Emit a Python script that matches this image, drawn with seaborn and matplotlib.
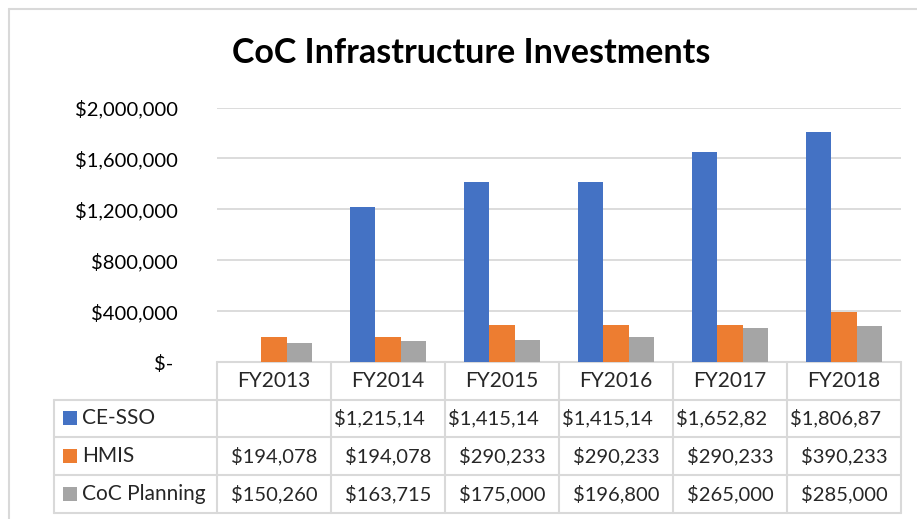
import matplotlib.pyplot as plt
import seaborn as sns
import pandas as pd
import numpy as np

years = ["FY2013", "FY2014", "FY2015", "FY2016", "FY2017", "FY2018"]
series = ["CE-SSO", "HMIS", "CoC Planning"]
ce_sso = [np.nan, 1215140, 1415140, 1415140, 1652820, 1806870]
hmis = [194078, 194078, 290233, 290233, 290233, 390233]
coc_planning = [150260, 163715, 175000, 196800, 265000, 285000]
colors = ["#4472C4", "#ED7D31", "#A5A5A5"]

sns.set_style("white")
plt.rcParams["font.family"] = ["Lato", "DejaVu Sans"]

rows = []
for name, vals in zip(series, [ce_sso, hmis, coc_planning]):
    for y, v in zip(years, vals):
        rows.append({"year": y, "series": name, "amount": v})
df = pd.DataFrame(rows)

W, H = 917, 519
fig = plt.figure(figsize=(W / 100, H / 100), dpi=100)

# figure frame (only top and left edges are inside the crop)
bg = fig.add_axes([0, 0, 1, 1])
bg.set_xlim(0, W)
bg.set_ylim(H, 0)
bg.axis("off")
bg.plot([9, 9], [9, H], color="#D9D9D9", lw=1.5)
bg.plot([9, W], [9, 9], color="#D9D9D9", lw=1.5)

# plot area
x0, x1 = 217, 901
y_top, y_zero = 107.5, 362
ax = fig.add_axes([x0 / W, 1 - y_zero / H, (x1 - x0) / W, (y_zero - y_top) / H])
sns.barplot(data=df, x="year", y="amount", hue="series", hue_order=series,
            order=years, palette=colors, saturation=1, width=0.67, errorbar=None,
            linewidth=0, legend=False, ax=ax)
ax.set_ylim(0, 2000000)
ax.set_xlim(-0.5, len(years) - 0.5)
ax.set_yticks(range(0, 2000001, 400000))
ax.yaxis.set_major_formatter(lambda v, p: "$- " if v == 0 else f"${v:,.0f}")
ax.tick_params(axis="y", labelsize=14.5, colors="#000000", length=0, pad=28)
ax.set_xticks([])
ax.set_xlabel("")
ax.set_ylabel("")
ax.grid(axis="y", color="#D9D9D9", lw=1.3)
ax.set_axisbelow(True)
for s in ax.spines.values():
    s.set_visible(False)
ax.patch.set_alpha(0)

fig.text(471 / W, 1 - 53 / H, "CoC Infrastructure Investments", ha="center",
         va="center", fontsize=24.5, fontweight="bold", color="#000000")

# data table
tl = "#D9D9D9"
col_w = (x1 - x0) / len(years)
row_y = [362, 399.5, 437, 475, 513]
lab_x = 54
bg.plot([x0, x1], [row_y[0], row_y[0]], color=tl, lw=1.5)
for y in row_y[1:]:
    bg.plot([lab_x, x1], [y, y], color=tl, lw=1.5)
bg.plot([lab_x, lab_x], [row_y[1], row_y[-1]], color=tl, lw=1.5)
for i in range(len(years) + 1):
    xx = x0 + i * col_w
    bg.plot([xx, xx], [row_y[0], row_y[-1]], color=tl, lw=1.5)

fs = 15
fn = 14.5
for i, y in enumerate(years):
    bg.text(x0 + (i + 0.5) * col_w, (row_y[0] + row_y[1]) / 2, y,
            ha="center", va="center", fontsize=fs)
for r, (name, vals, c) in enumerate(zip(series, [ce_sso, hmis, coc_planning], colors)):
    yc = (row_y[r + 1] + row_y[r + 2]) / 2
    bg.add_patch(plt.Rectangle((63, yc - 7), 14, 14, color=c, lw=0))
    bg.text(82, yc, name, ha="left", va="center", fontsize=fs)
    for i, v in enumerate(vals):
        if np.isnan(v):
            continue
        s = f"${v:,.0f}"
        cx = x0 + i * col_w
        if len(s) > 8:
            t = bg.text(cx + 3, yc, s[:9], ha="left", va="center", fontsize=fn)
            clip = plt.Rectangle((cx, row_y[r + 1]), col_w - 1, row_y[r + 2] - row_y[r + 1],
                                 transform=bg.transData, visible=False)
            t.set_clip_path(clip)
            t.set_clip_on(True)
        else:
            bg.text(cx + col_w / 2, yc, s, ha="center", va="center", fontsize=fn)

fig.savefig("out.png", dpi=100)
